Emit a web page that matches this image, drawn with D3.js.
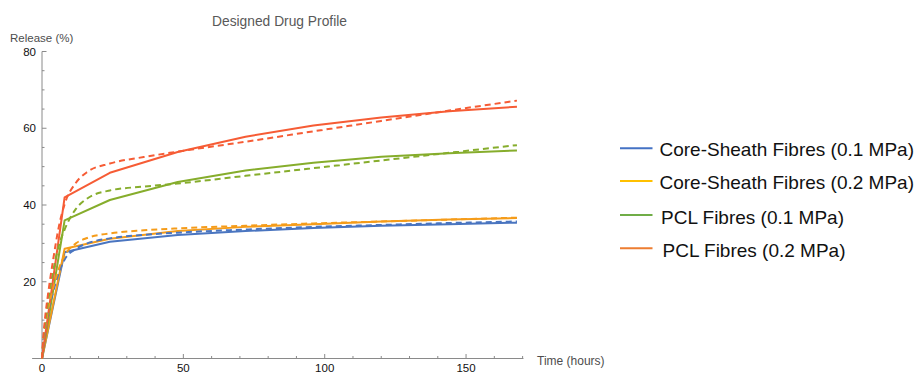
<!DOCTYPE html>
<html>
<head>
<meta charset="utf-8">
<script src="https://cdn.jsdelivr.net/npm/d3@7"></script>
<style>
  html, body { margin: 0; padding: 0; background: #fff; }
  svg { display: block; }
  text { font-family: "Liberation Sans", Arial, sans-serif; }
</style>
</head>
<body>
<svg id="chart" width="919" height="372"></svg>
<script>
// Release profiles: solid = sampled model (piecewise), dashed = fitted curve
const legendLabels = [
  "Core-Sheath Fibres (0.1 MPa)",
  "Core-Sheath Fibres (0.2 MPa)",
  "PCL Fibres (0.1 MPa)",
  "PCL Fibres (0.2 MPa)"
];

const sampleTimes = [0, 8, 24, 48, 72, 96, 120, 144, 168];
const coreSheath01 = [0, 27.7, 30.4, 32.2, 33.2, 34.0, 34.6, 35.0, 35.4];
const coreSheath02 = [0, 28.6, 31.2, 33.2, 34.3, 35.0, 35.7, 36.2, 36.6];
const pcl01 = [0, 36.0, 41.3, 46.0, 49.0, 51.0, 52.6, 53.5, 54.2];
const pcl02 = [0, 42.0, 48.4, 53.8, 57.8, 60.7, 62.8, 64.4, 65.6];

const fitTimes = [0, 0.5, 1, 2, 4, 6, 8, 12, 16, 24, 36, 48, 72, 96, 120, 144, 168];
const coreSheath01Fit = [0, 4, 7, 11.5, 17.5, 22.5, 25.8, 28.6, 30.0, 31.3, 32.2, 32.8, 33.6, 34.3, 34.8, 35.3, 35.7];
const coreSheath02Fit = [0, 4.5, 7.5, 12, 18.5, 23.5, 26.8, 30.0, 31.4, 32.6, 33.4, 33.9, 34.6, 35.2, 35.7, 36.2, 36.7];
const pcl01Fit = [0, 5, 8.5, 14, 23, 29.5, 33.6, 39.0, 41.7, 43.8, 44.8, 45.6, 47.6, 49.6, 51.6, 53.6, 55.6];
const pcl02Fit = [0, 6, 10, 16, 26, 34.5, 40.2, 45.8, 48.6, 50.8, 52.5, 53.9, 56.5, 59.2, 61.9, 64.6, 67.2];

const xMajorTicks = [0, 50, 100, 150];
const yMajorTicks = [20, 40, 60, 80];

const plotColors = ["#4a75c0", "#f59c1a", "#86ad2c", "#f65c35"];
const legendColors = ["#4472c4", "#ffc000", "#70ad47", "#ed7d31"];

const svg = d3.select("#chart");

const x = d3.scaleLinear().domain([0, 170]).range([42, 522.6]);
const y = d3.scaleLinear().domain([0, 80]).range([358.5, 51.5]);

// Title and axis labels
svg.append("text").attr("x", 279.5).attr("y", 26).attr("text-anchor", "middle")
  .attr("font-size", 13.8).attr("fill", "#595959").text("Designed Drug Profile");
svg.append("text").attr("x", 10).attr("y", 41.5)
  .attr("font-size", 11.5).attr("fill", "#4d4d4d").text("Release (%)");
svg.append("text").attr("x", 537).attr("y", 365)
  .attr("font-size", 12).attr("fill", "#4d4d4d").text("Time (hours)");

// X axis (ticks point up into the plot)
const axisColor = "#8a8a8a";
svg.append("line").attr("x1", x(-3.5)).attr("x2", x(170.3))
  .attr("y1", y(0)).attr("y2", y(0)).attr("stroke", axisColor).attr("stroke-width", 1);
const xMinor = d3.range(10, 171, 10).filter(v => v % 50 !== 0);
svg.append("g").selectAll("line").data(xMinor).join("line")
  .attr("x1", d => x(d)).attr("x2", d => x(d))
  .attr("y1", y(0)).attr("y2", y(0) - 2.5).attr("stroke", axisColor);
svg.append("g").selectAll("line").data(xMajorTicks.filter(d => d > 0)).join("line")
  .attr("x1", d => x(d)).attr("x2", d => x(d))
  .attr("y1", y(0)).attr("y2", y(0) - 4.5).attr("stroke", axisColor);
svg.append("g").selectAll("text").data(xMajorTicks).join("text")
  .attr("x", d => x(d)).attr("y", 371.5).attr("text-anchor", "middle")
  .attr("font-size", 11.5).attr("fill", "#111").text(d => d);

// Y axis (ticks point right into the plot)
svg.append("line").attr("x1", x(0)).attr("x2", x(0))
  .attr("y1", y(0)).attr("y2", y(80)).attr("stroke", axisColor).attr("stroke-width", 1);
const yMinor = d3.range(5, 80, 5).filter(v => v % 20 !== 0);
svg.append("g").selectAll("line").data(yMinor).join("line")
  .attr("x1", x(0)).attr("x2", x(0) + 2.5)
  .attr("y1", d => y(d)).attr("y2", d => y(d)).attr("stroke", axisColor);
svg.append("g").selectAll("line").data(yMajorTicks).join("line")
  .attr("x1", x(0)).attr("x2", x(0) + 4.5)
  .attr("y1", d => y(d)).attr("y2", d => y(d)).attr("stroke", axisColor);
svg.append("g").selectAll("text").data(yMajorTicks).join("text")
  .attr("x", 36).attr("y", d => y(d) + 4).attr("text-anchor", "end")
  .attr("font-size", 11.5).attr("fill", "#111").text(d => d);

// Curves
const solidSeries = [coreSheath01, coreSheath02, pcl01, pcl02];
const fitSeries = [coreSheath01Fit, coreSheath02Fit, pcl01Fit, pcl02Fit];

const solidLine = d3.line().x(d => x(d[0])).y(d => y(d[1]));
const fitLine = d3.line().x(d => x(d[0])).y(d => y(d[1])).curve(d3.curveMonotoneX);

const plot = svg.append("g");
solidSeries.forEach((vals, i) => {
  plot.append("path")
    .attr("d", solidLine(sampleTimes.map((t, k) => [t, vals[k]])))
    .attr("fill", "none").attr("stroke", plotColors[i]).attr("stroke-width", 2)
    .attr("stroke-linejoin", "round");
});
fitSeries.forEach((vals, i) => {
  plot.append("path")
    .attr("d", fitLine(fitTimes.map((t, k) => [t, vals[k]])))
    .attr("fill", "none").attr("stroke", plotColors[i]).attr("stroke-width", 2)
    .attr("stroke-dasharray", "6,4");
});

// Legend
const legendRows = [
  { lineY: 148.3, textX: 659.5, textY: 155.5 },
  { lineY: 181, textX: 659.5, textY: 188.8 },
  { lineY: 215, textX: 661, textY: 223.5 },
  { lineY: 248.3, textX: 662.5, textY: 256.5 }
];
const legend = svg.append("g");
legendLabels.forEach((label, i) => {
  const r = legendRows[i];
  legend.append("line").attr("x1", 620).attr("x2", 652.5)
    .attr("y1", r.lineY).attr("y2", r.lineY)
    .attr("stroke", legendColors[i]).attr("stroke-width", 2);
  legend.append("text").attr("x", r.textX).attr("y", r.textY)
    .attr("font-size", 19).attr("fill", "#111").text(label);
});
</script>
</body>
</html>
